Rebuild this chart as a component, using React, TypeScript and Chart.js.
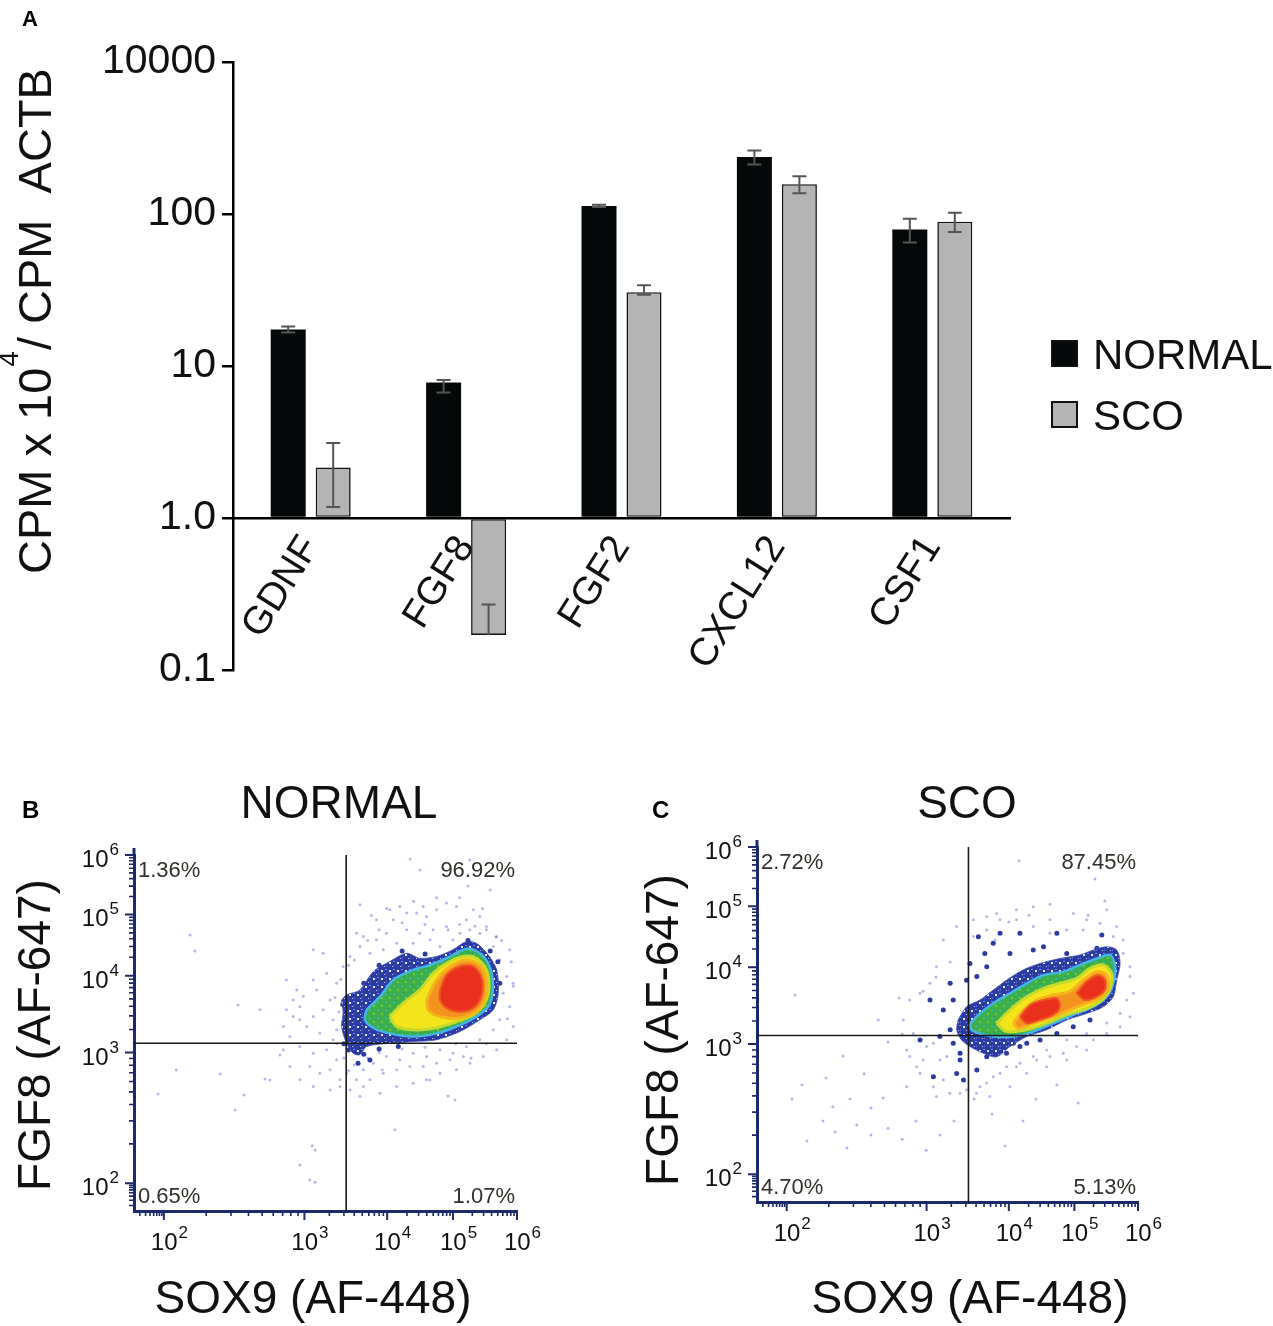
import React, { useEffect, useRef } from 'react';
import { Chart, registerables } from 'chart.js';

Chart.register(...registerables);

const FONT = 'Arial, "Liberation Sans", Helvetica, sans-serif';
const NAVY = '#1c2a6c';

// ---------------- Panel A data ----------------
const categories = ['GDNF', 'FGF8', 'FGF2', 'CXCL12', 'CSF1'];
const seriesNames = ['NORMAL', 'SCO'];
const normalValues = [17.4, 7.8, 113, 237, 79];
const normalErrLow = [0.8, 1.1, 2, 25, 14];
const normalErrHigh = [0.8, 0.3, 2, 25, 14];
const scoValues = [2.15, 0.17, 30.6, 157, 89];
const scoErrLow = [0.97, 0, 1.2, 20, 13];
const scoErrHigh = [0.97, 0.1, 3.4, 20, 13];
const yTickValues = [0.1, 1, 10, 100, 1000];
const yTickLabels = ['0.1', '1.0', '10', '100', '10000'];
const yAxisTitleParts = ['CPM x 10', '4', '/ CPM  ACTB'];

// ---------------- Panels B / C data (channel units 0..1000) ----------------
const decadeChannels = [78, 445, 661, 833, 1000];
const decadeExponents = ['2', '3', '4', '5', '6'];
const flowXTitle = 'SOX9 (AF-448)';
const flowYTitle = 'FGF8 (AF-647)';

type Pt = [number, number];

// NORMAL (panel B)
const normalTitle = 'NORMAL';
const normalGate: Pt = [554, 471];
const normalQuadrants = ['1.36%', '96.92%', '0.65%', '1.07%'];
const normalBlue: Pt[] = [[542,593],[555,607],[590,621],[625,673],[668,701],[712,724],[746,710],[790,715],[833,734],[868,757],[894,752],[925,719],[947,677],[951,612],[938,565],[903,537],[851,504],[790,481],[729,476],[668,471],[607,462],[590,439],[572,443],[555,471],[542,518],[546,556]];
const normalGreen: Pt[] = [[607,565],[642,602],[677,649],[729,677],[773,691],[816,710],[860,734],[886,734],[916,710],[934,668],[936,612],[925,574],[894,546],[842,518],[790,499],[729,490],[668,499],[625,514],[603,537]];
const normalYellow: Pt[] = [[668,546],[703,584],[746,621],[781,668],[816,696],[860,715],[894,710],[920,677],[927,631],[916,584],[886,551],[833,528],[781,513],[729,509],[686,518]];
const normalOrange: Pt[] = [[764,593],[790,649],[825,687],[868,705],[903,691],[920,649],[916,593],[894,560],[851,542],[799,546],[768,565]];
const normalRed: Pt[] = [[799,621],[816,663],[851,687],[886,687],[908,654],[908,607],[890,574],[855,560],[816,570],[799,593]];
const normalDark: Pt[] = [[577,448],[585,415],[616,424],[560,452],[548,470],[600,440],[640,455],[690,462],[955,640],[950,700],[930,730],[872,760],[760,722],[700,730],[640,690],[600,640],[545,580]];
const normalFaint: Pt[] = [[694,855],[738,837],[764,827],[790,846],[816,865],[842,855],[868,818],[903,827],[877,790],[851,780],[816,799],[781,790],[746,780],[712,790],[677,818],[659,780],[633,762],[599,771],[590,743],[616,724],[651,734],[686,752],[729,752],[773,762],[799,743],[833,762],[903,780],[938,743],[955,706],[973,659],[964,612],[981,574],[955,537],[938,509],[903,481],[868,462],[833,443],[799,453],[764,434],[729,443],[694,425],[659,434],[625,415],[599,397],[581,369],[616,369],[651,387],[686,397],[720,406],[755,406],[790,415],[825,425],[860,434],[512,593],[494,565],[468,546],[433,574],[416,593],[398,565],[451,518],[485,500],[520,481],[503,453],[468,443],[433,462],[407,490],[529,425],[512,397],[485,387],[459,406],[538,369],[564,340],[590,322],[494,724],[468,734],[398,649],[425,621],[477,621],[520,537],[529,509],[146,775],[287,326],[264,284],[355,368],[433,537],[381,438],[329,565],[747,958],[877,986],[930,902],[590,860],[459,87],[433,129],[473,171],[773,368],[838,312],[681,228],[63,329],[110,396],[159,730],[225,385],[272,579],[342,371],[465,183],[473,81],[648,396],[820,323],[721,989],[872,913],[960,760],[985,700],[990,640],[975,540],[920,470],[880,430],[840,470],[760,460],[700,455],[640,445],[610,430],[575,410],[560,395],[548,430],[530,470],[535,560],[525,600],[540,650],[560,690],[575,705],[610,760],[640,790],[700,810],[760,805],[820,790],[850,805],[890,800],[920,790],[945,770],[910,850],[850,880],[790,880],[730,870],[660,850],[620,830],[390,518],[416,546],[442,603],[468,649],[503,668],[529,640],[546,687],[564,715],[581,780],[633,818],[668,846],[712,837],[755,855],[886,846],[920,799],[947,771],[981,734],[990,631],[990,518],[973,481],[947,453],[912,434],[877,415],[842,397],[799,387],[764,369],[729,359],[686,350],[642,331],[599,350],[555,387],[538,350],[512,340],[468,350],[433,369],[407,406],[390,453]];

// SCO (panel C)
const scoTitle = 'SCO';
const scoGate: Pt = [555, 469];
const scoQuadrants = ['2.72%', '87.45%', '4.70%', '5.13%'];
const scoBlue: Pt[] = [[528,513],[550,550],[585,569],[620,597],[655,625],[699,654],[743,672],[795,686],[848,696],[883,710],[918,719],[944,710],[953,672],[944,625],[935,578],[909,550],[865,531],[813,513],[760,485],[708,466],[664,438],[629,409],[594,419],[559,438],[537,456],[524,485]];
const scoGreen: Pt[] = [[559,503],[585,531],[620,560],[664,588],[708,616],[752,639],[804,649],[848,668],[892,686],[927,696],[940,663],[935,616],[918,578],[883,550],[830,527],[778,503],[725,480],[673,466],[620,466],[585,475],[563,485]];
const scoYellow: Pt[] = [[629,503],[664,541],[708,578],[752,602],[795,616],[839,630],[874,658],[909,668],[931,644],[927,602],[905,569],[865,545],[813,527],[760,503],[708,485],[655,480]];
const scoOrange: Pt[] = [[673,503],[699,541],[734,569],[778,583],[821,593],[856,625],[891,649],[918,639],[922,602],[900,574],[865,560],[821,541],[778,522],[725,503],[686,489]];
const scoRedLeft: Pt[] = [[690,522],[717,555],[752,569],[787,574],[795,550],[778,527],[743,513],[708,503]];
const scoRedRight: Pt[] = [[839,588],[865,621],[896,639],[913,625],[913,597],[891,578],[861,569]];
const scoDark: Pt[] = [[581,747],[598,700],[620,729],[638,757],[664,700],[690,757],[725,710],[752,719],[787,757],[813,700],[905,752],[892,715],[507,616],[515,569],[489,541],[507,485],[515,447],[533,400],[524,362],[542,344],[577,372],[603,409],[638,438],[673,447],[708,447],[559,672],[550,625],[577,635],[603,663],[454,569],[428,456],[463,353],[480,466],[533,419],[585,447],[620,428],[655,419],[690,438],[743,456],[787,475],[830,494],[874,513]];
const scoFaint: Pt[] = [[100,583],[131,172],[205,197],[236,152],[299,265],[331,293],[244,290],[118,330],[92,290],[181,349],[226,411],[281,361],[344,451],[381,473],[318,513],[373,575],[436,594],[470,634],[507,676],[344,208],[381,177],[417,228],[444,146],[480,189],[517,228],[570,290],[617,248],[651,158],[698,228],[732,290],[787,330],[843,279],[688,961],[887,910],[913,848],[869,808],[661,789],[769,839],[625,738],[714,808],[199,268],[173,228],[262,217],[299,189],[629,813],[681,823],[725,832],[769,795],[830,813],[865,795],[918,823],[935,748],[961,701],[979,635],[970,569],[953,532],[918,504],[865,475],[813,457],[760,428],[725,410],[681,381],[638,363],[603,335],[576,306],[611,297],[664,325],[708,363],[760,381],[813,400],[865,428],[471,663],[454,616],[428,588],[401,569],[384,513],[410,475],[445,438],[393,428],[419,381],[480,400],[463,325],[506,306],[550,316],[489,738],[524,776],[568,795],[603,804],[401,410],[436,400],[463,447],[498,410],[428,363],[489,344],[393,325],[533,306],[471,297],[585,325],[620,353],[655,381],[690,391],[734,400],[769,410],[804,419],[839,438],[883,457],[918,475],[953,494],[979,522],[988,588],[979,663],[961,738],[944,776],[900,785],[856,766],[813,766],[769,757],[725,776],[681,795],[638,795],[603,766],[568,748]];

// ---------------- helpers ----------------
const toXY = (pts: Pt[]) => pts.map(([x, y]) => ({ x, y }));
const closed = (pts: Pt[]) => toXY([...pts, pts[0]]);

function setFont(ctx: CanvasRenderingContext2D, size: number, bold = false) {
  ctx.font = `${bold ? 'bold ' : ''}${size}px ${FONT}`;
}

// texture tiles (style only)
function makePattern(base: string, specks: [string, number, number, number, number][], fallback: string): CanvasPattern | string {
  const pc = document.createElement('canvas');
  pc.width = 8;
  pc.height = 8;
  const g = pc.getContext('2d');
  if (!g) return fallback;
  g.fillStyle = base;
  g.fillRect(0, 0, 8, 8);
  specks.forEach(([c, x, y, w, h]) => {
    g.fillStyle = c;
    g.fillRect(x, y, w, h);
  });
  return g.createPattern(pc, 'repeat') || fallback;
}

// ---------------- Panel A plugin ----------------
const errorSets = [
  [normalErrLow, normalErrHigh],
  [scoErrLow, scoErrHigh],
];

const panelAPlugin = {
  id: 'panelADeco',
  afterDatasetsDraw(chart: any) {
    const { ctx } = chart;
    const ys = chart.scales.y;
    ctx.save();
    ctx.strokeStyle = '#555';
    ctx.lineWidth = 2;
    errorSets.forEach(([lo, hi], di) => {
      const meta = chart.getDatasetMeta(di);
      const vals = chart.data.datasets[di].data as number[];
      meta.data.forEach((bar: any, j: number) => {
        const v = vals[j];
        const x = bar.x;
        const yTop = ys.getPixelForValue(v + hi[j]);
        const yBot = lo[j] > 0 ? ys.getPixelForValue(v - lo[j]) : ys.getPixelForValue(v);
        ctx.beginPath();
        ctx.moveTo(x, yTop);
        ctx.lineTo(x, yBot);
        ctx.moveTo(x - 7, yTop);
        ctx.lineTo(x + 7, yTop);
        if (lo[j] > 0) {
          ctx.moveTo(x - 7, yBot);
          ctx.lineTo(x + 7, yBot);
        }
        ctx.stroke();
      });
    });
    ctx.restore();
  },
  afterDraw(chart: any) {
    const { ctx } = chart;
    ctx.save();
    // legend
    chart.data.datasets.forEach((ds: any, i: number) => {
      const top = 341 + i * 61;
      ctx.fillStyle = ds.backgroundColor;
      ctx.fillRect(1052, top, 25, 25);
      ctx.strokeStyle = '#111';
      ctx.lineWidth = 2;
      ctx.strokeRect(1052, top, 25, 25);
      setFont(ctx, 42);
      ctx.fillStyle = '#111';
      ctx.textAlign = 'left';
      ctx.textBaseline = 'alphabetic';
      ctx.fillText(ds.label, 1093, top + 28);
    });
    // y-axis title with superscript
    ctx.translate(0, 321);
    ctx.rotate(-Math.PI / 2);
    const mainSize = 47;
    const supSize = 28;
    setFont(ctx, mainSize);
    const w0 = ctx.measureText(yAxisTitleParts[0]).width;
    const w2 = ctx.measureText(yAxisTitleParts[2]).width;
    setFont(ctx, supSize);
    const w1 = ctx.measureText(yAxisTitleParts[1]).width;
    const total = w0 + w1 + w2 + 2;
    let x = -total / 2;
    ctx.fillStyle = '#111';
    ctx.textAlign = 'left';
    ctx.textBaseline = 'alphabetic';
    setFont(ctx, mainSize);
    ctx.fillText(yAxisTitleParts[0], x, 51);
    x += w0 + 1;
    setFont(ctx, supSize);
    ctx.fillText(yAxisTitleParts[1], x, 18);
    x += w1 + 1;
    setFont(ctx, mainSize);
    ctx.fillText(yAxisTitleParts[2], x, 51);
    ctx.restore();
    // panel letter
    ctx.save();
    setFont(ctx, 22, true);
    ctx.fillStyle = '#000';
    ctx.textAlign = 'left';
    ctx.textBaseline = 'alphabetic';
    ctx.fillText('A', 22, 26);
    ctx.restore();
  },
};

// ---------------- Flow plugin ----------------
function makeFlowPlugin(spec: any) {
  return {
    id: 'flowDeco',
    afterDraw(chart: any) {
      const { ctx, chartArea: ca } = chart;
      const xs = chart.scales.x;
      const ys = chart.scales.y;
      ctx.save();
      // axis extension above top / right like the cytometer plot frame
      ctx.strokeStyle = NAVY;
      ctx.lineWidth = 3;
      ctx.beginPath();
      ctx.moveTo(ca.left, ca.top);
      ctx.lineTo(ca.left, ca.top - 7);
      ctx.stroke();
      // minor ticks (log positions within each decade)
      const anchors = [-42, ...decadeChannels];
      ctx.lineWidth = 1.6;
      ctx.beginPath();
      for (let d = 0; d < anchors.length - 1; d++) {
        const a = anchors[d];
        const b = anchors[d + 1];
        for (let k = 2; k <= 9; k++) {
          const ch = a + (b - a) * Math.log10(k);
          if (ch < 2) continue;
          const px = xs.getPixelForValue(ch);
          const py = ys.getPixelForValue(ch);
          ctx.moveTo(px, ca.bottom);
          ctx.lineTo(px, ca.bottom + 5);
          ctx.moveTo(ca.left - 5, py);
          ctx.lineTo(ca.left, py);
        }
      }
      ctx.stroke();
      // major ticks
      ctx.lineWidth = 2;
      ctx.beginPath();
      decadeChannels.forEach((ch) => {
        const px = xs.getPixelForValue(ch);
        const py = ys.getPixelForValue(ch);
        ctx.moveTo(px, ca.bottom);
        ctx.lineTo(px, ca.bottom + 9);
        ctx.moveTo(ca.left - 9, py);
        ctx.lineTo(ca.left, py);
      });
      ctx.stroke();
      // tick labels 10^n
      ctx.fillStyle = '#111';
      ctx.textBaseline = 'alphabetic';
      ctx.textAlign = 'left';
      decadeChannels.forEach((ch, i) => {
        const e = decadeExponents[i];
        setFont(ctx, 24);
        const wb = ctx.measureText('10').width;
        setFont(ctx, 17);
        const ws = ctx.measureText(e).width;
        // x axis label
        const px = xs.getPixelForValue(ch);
        const sx = px - (wb + ws) / 2 + 5;
        const by = ca.bottom + 39;
        setFont(ctx, 24);
        ctx.fillText('10', sx, by);
        setFont(ctx, 17);
        ctx.fillText(e, sx + wb + 1, by - 12);
        // y axis label
        const py = ys.getPixelForValue(ch);
        const ex = ca.left - 15;
        const yb = py + 12;
        setFont(ctx, 17);
        ctx.fillText(e, ex - ws, yb - 12);
        setFont(ctx, 24);
        ctx.fillText('10', ex - ws - wb - 1, yb);
      });
      // quadrant percentages
      setFont(ctx, 22);
      ctx.fillStyle = '#332f2a';
      ctx.textBaseline = 'middle';
      const q = spec.quadrants;
      ctx.textAlign = 'left';
      ctx.fillText(q[0], ca.left + 4, ca.top + 16);
      ctx.fillText(q[2], ca.left + 4, ca.bottom - 14);
      ctx.textAlign = 'right';
      ctx.fillText(q[1], ca.right - 2, ca.top + 16);
      ctx.fillText(q[3], ca.right - 2, ca.bottom - 14);
      // title
      ctx.fillStyle = '#111';
      ctx.textBaseline = 'alphabetic';
      ctx.textAlign = 'center';
      setFont(ctx, 46);
      ctx.fillText(spec.title, spec.titleX, 58);
      // x title
      ctx.fillText(flowXTitle, spec.xTitleX, 553);
      // panel letter
      setFont(ctx, 24, true);
      ctx.textAlign = 'left';
      ctx.fillStyle = '#000';
      ctx.fillText(spec.letter, 22, 58);
      // y title
      ctx.translate(spec.yTitleBase, spec.yTitleY);
      ctx.rotate(-Math.PI / 2);
      setFont(ctx, 46);
      ctx.fillStyle = '#111';
      ctx.textAlign = 'center';
      ctx.fillText(flowYTitle, 0, 0);
      ctx.restore();
    },
  };
}

function polygon(pts: Pt[], fill: any, border: string, bw: number, order: number) {
  return {
    type: 'line',
    data: closed(pts),
    showLine: true,
    fill: 'shape',
    backgroundColor: fill,
    borderColor: border,
    borderWidth: bw,
    pointRadius: 0,
    tension: 0.3,
    order,
  };
}

function makeFlowChart(canvas: HTMLCanvasElement, spec: any) {
  const W = canvas.width;
  const H = canvas.height;
  const bluePattern = makePattern(
    '#2c3aa3',
    [
      ['#6f8ee0', 1, 1, 2, 1],
      ['rgba(255,255,255,0.9)', 5, 2, 2, 2],
      ['#4b63c8', 2, 5, 1, 2],
      ['rgba(255,255,255,0.75)', 0, 6, 1, 1],
    ],
    '#2c3aa3'
  );
  const greenPattern = makePattern(
    '#3bb04a',
    [
      ['#49b8e2', 1, 2, 2, 1],
      ['#7cc63a', 5, 5, 2, 2],
      ['#2f9c5a', 4, 0, 1, 1],
    ],
    '#3bb04a'
  );
  const redSets = spec.reds.map((r: Pt[]) => polygon(r, '#e8301c', '#ee5520', 2, 1));
  return new Chart(canvas, {
    type: 'scatter',
    data: {
      datasets: [
        {
          type: 'line',
          data: [{ x: spec.gate[0], y: 0 }, { x: spec.gate[0], y: 1000 }],
          borderColor: '#1a1a1a',
          borderWidth: 1.6,
          pointRadius: 0,
          fill: false,
          showLine: true,
          order: 0,
        },
        {
          type: 'line',
          data: [{ x: 0, y: spec.gate[1] }, { x: 1000, y: spec.gate[1] }],
          borderColor: '#1a1a1a',
          borderWidth: 1.6,
          pointRadius: 0,
          fill: false,
          showLine: true,
          order: 0,
        },
        ...redSets,
        polygon(spec.orange, '#f4921f', '#f6b41c', 3, 2),
        polygon(spec.yellow, '#f3e41b', '#c6da2c', 3, 3),
        polygon(spec.green, greenPattern, '#45b5e5', 2.5, 4),
        polygon(spec.blue, bluePattern, 'rgba(60,75,180,0.8)', 1, 5),
        {
          type: 'scatter',
          data: toXY(spec.dark),
          pointRadius: 2.5,
          backgroundColor: '#2d3a9e',
          borderWidth: 0,
          order: 6,
        },
        {
          type: 'scatter',
          data: toXY(spec.faint),
          pointRadius: 1.5,
          backgroundColor: 'rgba(110,112,210,0.5)',
          borderWidth: 0,
          order: 7,
        },
      ] as any,
    },
    options: {
      animation: false,
      responsive: false,
      layout: { padding: { top: spec.area.top, right: W - spec.area.right, left: 0, bottom: 0 } },
      plugins: { legend: { display: false }, tooltip: { enabled: false } },
      scales: {
        x: {
          type: 'linear',
          min: 0,
          max: 1000,
          ticks: { display: false },
          grid: { display: false },
          border: { color: NAVY, width: 3 },
          afterFit: (s: any) => {
            s.height = H - spec.area.bottom;
          },
        },
        y: {
          type: 'linear',
          min: 0,
          max: 1000,
          ticks: { display: false },
          grid: { display: false },
          border: { color: NAVY, width: 3 },
          afterFit: (s: any) => {
            s.width = spec.area.left;
          },
        },
      },
    } as any,
    plugins: [makeFlowPlugin(spec)],
  });
}

export default function App() {
  const refA = useRef<HTMLCanvasElement>(null);
  const refB = useRef<HTMLCanvasElement>(null);
  const refC = useRef<HTMLCanvasElement>(null);

  useEffect(() => {
    const charts: Chart[] = [];
    if (refA.current) {
      charts.push(
        new Chart(refA.current, {
          type: 'bar',
          data: {
            labels: categories,
            datasets: [
              {
                label: seriesNames[0],
                data: normalValues,
                backgroundColor: '#060909',
                borderColor: '#060909',
                borderWidth: 0,
                base: 1,
              },
              {
                label: seriesNames[1],
                data: scoValues,
                backgroundColor: '#b4b4b4',
                borderColor: '#111',
                borderWidth: 1.6,
                borderSkipped: false,
                base: 1,
              },
            ],
          },
          options: {
            animation: false,
            responsive: false,
            layout: { padding: { left: 0, right: 263, top: 62, bottom: 50 } },
            datasets: { bar: { barPercentage: 0.778, categoryPercentage: 0.579 } },
            plugins: { legend: { display: false }, tooltip: { enabled: false } },
            scales: {
              x: {
                type: 'category',
                position: { y: 1 },
                grid: { display: false, drawTicks: false },
                border: { display: true, color: '#000', width: 2.5 },
                ticks: {
                  font: { family: FONT, size: 39 },
                  color: '#111',
                  minRotation: 58,
                  maxRotation: 58,
                  padding: 10,
                  autoSkip: false,
                },
              },
              y: {
                type: 'logarithmic',
                min: 0.1,
                max: 1000,
                afterBuildTicks: (s: any) => {
                  s.ticks = yTickValues.map((v) => ({ value: v }));
                },
                afterFit: (s: any) => {
                  s.width = 233;
                },
                grid: { drawOnChartArea: false, drawTicks: true, tickLength: 11, color: '#000', lineWidth: 2.5 },
                border: { color: '#000', width: 2.5 },
                ticks: {
                  callback: (_v: any, i: number) => yTickLabels[i],
                  font: { family: FONT, size: 41 },
                  color: '#111',
                  padding: 6,
                },
              },
            },
          } as any,
          plugins: [panelAPlugin],
        })
      );
    }
    if (refB.current) {
      charts.push(
        makeFlowChart(refB.current, {
          title: normalTitle,
          letter: 'B',
          titleX: 339,
          xTitleX: 313,
          yTitleBase: 50,
          yTitleY: 275,
          area: { left: 134, right: 517, top: 95, bottom: 451 },
          gate: normalGate,
          quadrants: normalQuadrants,
          blue: normalBlue,
          green: normalGreen,
          yellow: normalYellow,
          orange: normalOrange,
          reds: [normalRed],
          dark: normalDark,
          faint: normalFaint,
        })
      );
    }
    if (refC.current) {
      charts.push(
        makeFlowChart(refC.current, {
          title: scoTitle,
          letter: 'C',
          titleX: 337,
          xTitleX: 340,
          yTitleBase: 48,
          yTitleY: 270,
          area: { left: 127, right: 508, top: 87, bottom: 442 },
          gate: scoGate,
          quadrants: scoQuadrants,
          blue: scoBlue,
          green: scoGreen,
          yellow: scoYellow,
          orange: scoOrange,
          reds: [scoRedLeft, scoRedRight],
          dark: scoDark,
          faint: scoFaint,
        })
      );
    }
    return () => charts.forEach((c) => c.destroy());
  }, []);

  return (
    <div style={{ position: 'absolute', left: 0, top: 0, width: 1273, height: 1326, background: '#fff' }}>
      <canvas
        ref={refA}
        width={1273}
        height={720}
        style={{ position: 'absolute', left: 0, top: 0, width: 1273, height: 720 }}
      />
      <canvas
        ref={refB}
        width={560}
        height={566}
        style={{ position: 'absolute', left: 0, top: 760, width: 560, height: 566 }}
      />
      <canvas
        ref={refC}
        width={643}
        height={566}
        style={{ position: 'absolute', left: 630, top: 760, width: 643, height: 566 }}
      />
    </div>
  );
}
